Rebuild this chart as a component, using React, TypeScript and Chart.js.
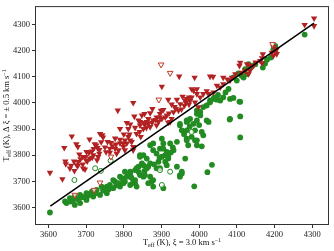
import React, { useEffect, useRef } from "react";
import { Chart, registerables } from "chart.js";
Chart.register(...registerables);

const xTicks = [3600, 3700, 3800, 3900, 4000, 4100, 4200, 4300];
const yTicks = [3600, 3700, 3800, 3900, 4000, 4100, 4200, 4300];

const lineX = [3605, 4305];
const lineY = [3605, 4305];

// red filled down-triangles: Teff (xi = 3.0) vs Teff (delta xi)
const redX = [
  3604, 3637, 3642, 3645, 3646, 3657, 3662, 3668, 3674, 3678, 3682, 3678, 3691, 3692, 3698, 3707, 3703, 3709, 3716, 3723,
  3727, 3730, 3732, 3729, 3737, 3743, 3745, 3753, 3757, 3766, 3779, 3763, 3784, 3669, 3675, 3697, 3710, 3719, 3735, 3763,
  3777, 3786, 3790, 3799, 3799, 3803, 3803, 3808, 3808, 3812, 3812, 3817, 3817, 3821, 3825, 3825, 3825, 3828, 3834, 3839,
  3842, 3843, 3843, 3848, 3852, 3852, 3855, 3856, 3861, 3865, 3865, 3870, 3870, 3876, 3878, 3887, 3887, 3892, 3896, 3899,
  3901, 3901, 3905, 3914, 3918, 3923, 3918, 3927, 3927, 3932, 3938, 3941, 3945, 3947, 3953, 3956, 3961, 3963, 3973, 3973,
  3980, 3988, 3994, 3998, 3781, 3790, 3777, 3701, 3691, 3720, 3679,
  3815, 3830, 3845, 3860, 3875, 3885, 3895, 3910, 3920, 3935, 3950, 3965, 3790, 3800, 3770, 3750, 3740, 3735, 3715, 3700,
  3685, 3660,
  3985, 3994, 3980, 3976, 3967, 3989, 4003, 4011, 4025, 4029, 4037, 4038, 4047, 4056, 4064, 4064, 4082, 4087, 4096, 4107,
  4109, 4113, 4122, 4127, 4131, 4135, 4135, 4144, 4162, 4167, 4167, 4169, 4193, 4197, 4197, 4202, 4206, 4206, 4280, 4305,
  4305, 4020, 4075, 4150,
];
const redY = [
  3733, 3709, 3828, 3776, 3766, 3750, 3872, 3776, 3842, 3832, 3803, 3759, 3765, 3750, 3794, 3809, 3777, 3861, 3791, 3842,
  3838, 3828, 3794, 3781, 3882, 3877, 3868, 3812, 3851, 3847, 3841, 3825, 3971, 3740, 3762, 3746, 3787, 3800, 3806, 3810,
  3825, 3819, 3901, 3845, 3832, 3819, 3857, 3845, 3924, 3870, 3901, 3918, 3857, 3851, 3819, 3832, 4000, 3948, 3882, 3933,
  3889, 3914, 3927, 3952, 3901, 3924, 3958, 3918, 3927, 3920, 3939, 3908, 3961, 3977, 3933, 3914, 3945, 3927, 3958, 3970,
  3939, 4062, 3973, 3952, 3925, 3927, 4012, 3939, 3994, 3965, 3977, 4012, 3971, 4101, 3975, 4024, 3990, 4009, 3994, 4021,
  4053, 4097, 4053, 3984, 3806, 3845, 3864, 3813, 3794, 3824, 3775,
  3880, 3905, 3870, 3905, 3925, 3935, 3945, 3945, 3960, 3985, 3995, 4000, 3860, 3880, 3835, 3830, 3850, 3820, 3815, 3780,
  3785, 3760,
  4047, 4034, 4021, 4009, 4015, 4002, 4021, 4034, 4034, 4101, 4100, 4040, 4066, 4059, 4072, 4097, 4085, 4097, 4110, 4142,
  4154, 4116, 4123, 4148, 4110, 4123, 4142, 4142, 4161, 4152, 4171, 4186, 4192, 4180, 4214, 4192, 4187, 4205, 4298, 4294,
  4323, 4045, 4090, 4155,
];

// red open down-triangles
const redOpenX = [3737, 3721, 3670, 3766, 3899, 3923, 3893, 4195];
const redOpenY = [3695, 3667, 3648, 3794, 4146, 4114, 4012, 4224];

// green filled circles
const greenX = [
  3604, 3644, 3648, 3657, 3661, 3670, 3670, 3684, 3684, 3701, 3701, 3715, 3719, 3728, 3737, 3741, 3755, 3755, 3763, 3772,
  3772, 3777, 3786, 3790, 3790, 3795, 3799, 3803, 3803, 3808, 3817, 3817, 3817, 3825, 3830, 3830, 3830, 3834, 3834, 3839,
  3843, 3843, 3843, 3848, 3852, 3852, 3852, 3856, 3861, 3861, 3865, 3865, 3870, 3870, 3870, 3874, 3878, 3878, 3878, 3878,
  3887, 3887, 3892, 3896, 3896, 3901, 3901, 3905, 3905, 3905, 3910, 3914, 3914, 3918, 3918, 3923, 3932, 3941, 3941, 3949,
  3949, 3949, 3949, 3954, 3954, 3954, 3963, 3967, 3967, 3967, 3967, 3967, 3971, 3971, 3976, 3980, 3985, 3987, 3989, 3989,
  3994, 3994, 3994, 3994, 3994, 4003, 4003, 4007, 4007, 4011, 4011, 4020, 4020, 4022, 4025, 4029, 4029, 4034, 4038, 4047,
  4056, 4064, 4078, 4081, 4082, 4082, 4091, 4091, 4104, 4107, 4109, 4109, 4109, 4113, 4118, 4122, 4127, 4131, 4135, 4149,
  4169, 4190, 4197, 4202, 4280, 3659, 3666, 3693, 3710, 3746,
  3680, 3690, 3705, 3725, 3745, 3760, 3780, 3800, 3820, 3840, 3855, 3880, 3895, 3910, 3925, 3930, 3960, 3975, 4000, 4040,
  4050, 4070, 4100, 4140, 4175, 4180,
];
const greenY = [
  3581, 3623, 3617, 3636, 3629, 3642, 3610, 3648, 3617, 3655, 3629, 3661, 3642, 3667, 3648, 3680, 3680, 3655, 3686, 3674,
  3705, 3699, 3693, 3718, 3680, 3712, 3693, 3737, 3699, 3718, 3731, 3737, 3686, 3699, 3693, 3705, 3743, 3680, 3750, 3756,
  3724, 3800, 3794, 3769, 3800, 3762, 3718, 3724, 3787, 3750, 3756, 3693, 3769, 3718, 3838, 3699, 3705, 3680, 3845, 3819,
  3806, 3750, 3775, 3825, 3750, 3794, 3863, 3845, 3825, 3674, 3775, 3813, 3762, 3787, 3794, 3845, 3819, 3851, 3756, 3914,
  3920, 3724, 3718, 3895, 3737, 3730, 3787, 3863, 3927, 3895, 3857, 3933, 3933, 3838, 3939, 3870, 3920, 3681, 3895, 3857,
  3958, 3857, 3838, 3933, 3971, 3965, 3952, 3889, 3834, 3876, 3984, 3990, 3933, 3735, 3927, 4002, 4009, 3763, 4015, 4012,
  4009, 4021, 4053, 3936, 4015, 3939, 4019, 4097, 4113, 4005, 3868, 3948, 4004, 4104, 4097, 4129, 4110, 4148, 4134, 4148,
  4135, 4173, 4205, 4218, 4261, 3623, 3629, 3640, 3650, 3672,
  3630, 3640, 3645, 3655, 3665, 3670, 3685, 3705, 3715, 3735, 3740, 3765, 3790, 3800, 3810, 3830, 3880, 3910, 3915, 4020,
  4030, 4040, 4085, 4140, 4150, 4165,
];

// green open circles
const greenOpenX = [3669, 3724, 3739, 3765, 3896, 3923, 3901, 3980];
const greenOpenY = [3705, 3750, 3740, 3779, 3743, 3737, 3686, 3889];

const pts = (xs: number[], ys: number[]) => xs.map((x, i) => ({ x, y: ys[i] }));

const FONT = "'Liberation Serif', 'Times New Roman', serif";

type Part = [string, number];
const xTitle: Part[] = [["T", 0], ["eff", 1], [" (K), ξ = 3.0 km s", 0], ["−1", 2]];
const yTitle: Part[] = [["T", 0], ["eff", 1], [" (K), Δ ξ = ± 0.5 km s", 0], ["−1", 2]];

function drawRich(ctx: CanvasRenderingContext2D, parts: Part[], cx: number, cy: number) {
  const big = 8.5;
  const small = 6;
  const fontOf = (k: number) => `${k === 0 ? big : small}px ${FONT}`;
  let total = 0;
  for (const [t, k] of parts) {
    ctx.font = fontOf(k);
    total += ctx.measureText(t).width;
  }
  let x = cx - total / 2;
  ctx.textBaseline = "middle";
  ctx.textAlign = "left";
  for (const [t, k] of parts) {
    ctx.font = fontOf(k);
    const dy = k === 1 ? 2.5 : k === 2 ? -3 : 0;
    ctx.fillText(t, x, cy + dy);
    x += ctx.measureText(t).width;
  }
}

const framePlugin = {
  id: "frameAndTitles",
  afterDraw(chart: any) {
    const { ctx, chartArea } = chart;
    const { left, right, top, bottom } = chartArea;
    ctx.save();
    ctx.strokeStyle = "#333";
    ctx.lineWidth = 1;
    ctx.strokeRect(left - 0.5, top - 0.5, right - left + 1, bottom - top + 1);
    ctx.fillStyle = "#111";
    drawRich(ctx, xTitle, (left + right) / 2, 243);
    ctx.translate(7, (top + bottom) / 2);
    ctx.rotate(-Math.PI / 2);
    drawRich(ctx, yTitle, 0, 0);
    ctx.restore();
  },
};

export default function App() {
  const ref = useRef<HTMLCanvasElement>(null);
  useEffect(() => {
    document.body.style.margin = "0";
    const tickFont = { family: FONT, size: 8.5 };
    const chart = new Chart(ref.current as HTMLCanvasElement, {
      type: "scatter",
      data: {
        datasets: [
          {
            data: pts(lineX, lineY),
            showLine: true,
            borderColor: "#000",
            borderWidth: 1.5,
            pointRadius: 0,
            fill: false,
          } as any,
          {
            data: pts(redOpenX, redOpenY),
            pointStyle: "triangle",
            rotation: 180,
            pointRadius: 3.3,
            backgroundColor: "rgba(255,255,255,0.7)",
            borderColor: "#c0392b",
            borderWidth: 1,
          },
          {
            data: pts(greenOpenX, greenOpenY),
            pointStyle: "circle",
            pointRadius: 2.5,
            backgroundColor: "rgba(255,255,255,0.7)",
            borderColor: "#228b22",
            borderWidth: 1,
          },
          {
            data: pts(redX, redY),
            pointStyle: "triangle",
            rotation: 180,
            pointRadius: 3.7,
            backgroundColor: "#b22222",
            borderColor: "#b22222",
            borderWidth: 0,
          },
          {
            data: pts(greenX, greenY),
            pointStyle: "circle",
            pointRadius: 2.9,
            backgroundColor: "#228b22",
            borderColor: "#228b22",
            borderWidth: 0,
          },
        ],
      },
      options: {
        responsive: false,
        animation: false,
        devicePixelRatio: 1,
        layout: { padding: { top: 6, right: 6, left: 0, bottom: 0 } },
        plugins: { legend: { display: false }, tooltip: { enabled: false } },
        events: [],
        scales: {
          x: {
            type: "linear",
            min: 3567,
            max: 4342,
            afterBuildTicks: (s: any) => {
              s.ticks = xTicks.map((v) => ({ value: v }));
            },
            afterFit: (s: any) => {
              s.height = 27;
            },
            border: { display: false },
            grid: { drawOnChartArea: false, drawTicks: true, tickLength: 4, color: "#333" },
            ticks: {
              font: tickFont,
              color: "#222",
              padding: 2,
              maxRotation: 0,
              autoSkip: false,
              callback: (v: any) => String(v),
            },
          },
          y: {
            type: "linear",
            min: 3537,
            max: 4366,
            afterBuildTicks: (s: any) => {
              s.ticks = yTicks.map((v) => ({ value: v }));
            },
            afterFit: (s: any) => {
              s.width = 36;
            },
            border: { display: false },
            grid: { drawOnChartArea: false, drawTicks: true, tickLength: 4, color: "#333" },
            ticks: {
              font: tickFont,
              color: "#222",
              padding: 2,
              autoSkip: false,
              callback: (v: any) => String(v),
            },
          },
        },
      },
      plugins: [framePlugin],
    });
    return () => chart.destroy();
  }, []);
  return (
    <div style={{ width: 334, height: 251 }}>
      <canvas ref={ref} width={334} height={251} style={{ display: "block" }} />
    </div>
  );
}
